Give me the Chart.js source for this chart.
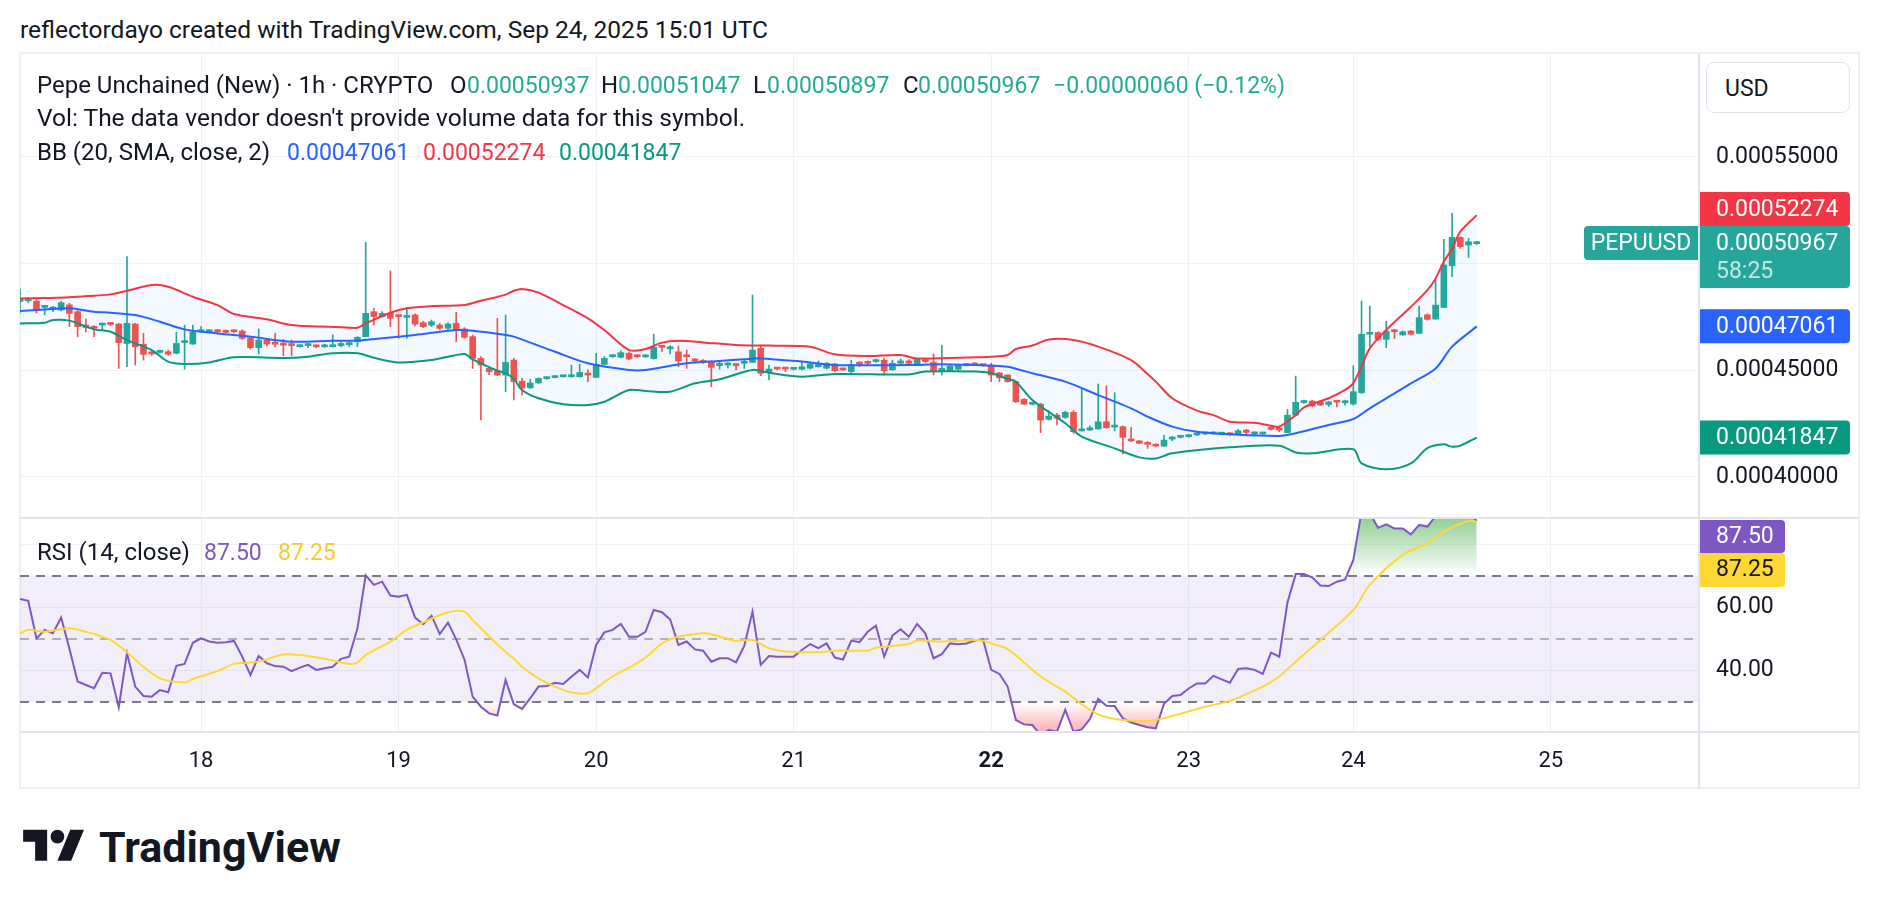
<!DOCTYPE html>
<html>
<head>
<meta charset="utf-8">
<title>PEPUUSD 1h</title>
<script src="https://cdn.jsdelivr.net/npm/chart.js@4.4.1/dist/chart.umd.min.js"></script>
<style>
  html, body { margin: 0; padding: 0; background: #fff; }
  body { width: 1878px; height: 908px; position: relative; overflow: hidden;
         font-family: Roboto, 'Noto Sans', sans-serif; color: #131722; }
  .t { position: absolute; white-space: nowrap; line-height: 1; }
  .sep { position: absolute; background: #e0e3eb; }
  canvas { position: absolute; }
</style>
</head>
<body>
<div id="frame" style="position:absolute;left:19px;top:52px;width:1841px;height:737px;box-sizing:border-box;border:2px solid #eef0f3"></div>
<canvas id="priceChart" width="1838" height="465" style="left:20px;top:53px"></canvas>
<canvas id="rsiChart" width="1838" height="269" style="left:20px;top:518px"></canvas>
<div class="sep" style="left:1698px;top:53px;width:2px;height:735px"></div>
<div class="sep" style="left:20px;top:517px;width:1839px;height:2px"></div>
<div class="sep" style="left:20px;top:731px;width:1839px;height:2px"></div>
<div style="position:absolute;left:1706px;top:62px;width:144px;height:51px;box-sizing:border-box;border:1px solid #e0e3eb;border-radius:8px;background:#fff"></div>
<svg style="position:absolute;left:23px;top:823px" width="62" height="48" viewBox="0 0 36 28">
  <path fill="#131722" d="M14 22H7V11H0V4h14v18zM28 22h-8l7.5-18h8L28 22z"/>
  <circle fill="#131722" cx="20" cy="8" r="4"/>
</svg>
<script>
'use strict';

// prices are in micro-USD (1e-6), one candle per hour, index 0 = Sep 17 02:00
const opens = [
  482.3,482.6,482.3,479.5,478.7,478.3,480.7,477.5,471.2,470.5,
  471.2,472.0,471.7,462.6,471.7,462.2,458.4,458.4,458.7,458.0,
  463.0,462.3,468.1,468.1,468.9,468.6,468.6,468.4,465.3,460.6,
  464.2,463.0,462.3,462.3,461.1,461.6,461.6,461.0,461.1,461.6,
  462.0,463.4,465.8,477.5,475.2,476.7,475.6,474.8,476.0,472.3,
  471.2,471.2,469.7,472.0,469.4,465.8,455.6,450.9,449.8,447.8,
  454.8,444.9,441.8,444.1,446.1,446.6,447.0,447.0,447.0,448.6,
  446.7,452.8,456.4,456.1,458.0,456.9,456.3,455.5,461.6,460.1,
  458.7,457.2,455.2,454.4,454.0,452.2,452.5,452.9,453.3,453.7,
  460.3,449.1,451.2,451.2,450.5,450.5,451.0,451.7,451.0,453.0,
  450.9,449.4,453.7,454.1,454.1,454.8,450.2,453.3,454.4,452.5,
  454.9,453.7,449.6,449.8,450.5,452.2,453.3,452.5,452.5,448.8,
  447.8,444.7,436.4,434.1,434.2,427.0,429.0,427.9,430.3,421.6,
  422.0,422.5,425.9,423.4,423.6,417.8,416.9,416.2,415.3,414.5,
  417.8,418.6,418.9,419.7,420.2,420.2,420.1,420.5,420.2,422.0,
  420.2,420.2,423.1,422.8,420.8,429.0,434.9,435.6,435.3,434.0,
  435.6,434.8,434.2,439.5,466.9,467.7,464.5,468.9,466.6,468.4,
  467.3,476.0,474.0,479.5,499.0,512.3,508.7,509.37
];
const highs = [
  488.1,484.1,483.1,480.5,480.0,482.4,481.4,478.0,474.0,471.0,
  472.2,472.2,472.0,503.3,472.0,467.3,459.0,459.5,459.5,467.8,
  471.2,471.2,470.5,469.0,469.2,469.0,469.0,469.0,466.0,469.4,
  465.0,467.3,464.5,464.2,462.0,462.5,462.0,462.3,466.6,463.2,
  463.4,465.8,510.0,479.0,477.5,496.6,476.0,479.5,476.5,473.0,
  473.6,472.0,472.3,477.2,470.0,466.6,456.4,451.5,474.4,475.9,
  455.6,446.2,445.8,446.5,447.0,447.3,447.6,452.5,452.9,450.2,
  458.0,456.4,457.3,459.1,458.7,457.3,457.3,467.0,461.6,461.6,
  461.4,459.5,455.6,455.0,454.4,454.0,453.7,453.3,454.8,485.3,
  461.8,452.5,451.4,451.4,451.2,453.6,453.7,454.4,453.7,453.3,
  451.2,454.8,454.1,454.4,455.3,455.6,454.8,455.3,455.0,455.6,
  455.2,457.7,461.8,452.2,452.9,453.3,453.7,452.8,453.3,449.1,
  448.0,445.0,436.7,434.8,434.5,431.1,429.8,430.8,431.1,441.1,
  424.0,443.6,442.7,439.5,424.0,423.3,417.2,416.6,415.5,419.7,
  419.0,419.5,420.0,420.8,421.0,421.2,420.8,420.8,422.3,422.3,
  421.2,421.0,423.6,423.9,431.7,447.3,436.0,436.0,435.6,435.5,
  435.8,436.0,452.2,482.5,480.1,468.0,473.0,469.2,468.5,468.7,
  480.1,476.5,492.3,511.4,523.6,512.6,511.9,510.47
];
const lows = [
  476.9,481.7,476.9,476.0,477.5,477.8,470.5,465.8,468.0,465.8,
  469.2,471.0,450.9,451.7,452.5,454.8,457.0,458.0,457.0,457.7,
  450.6,462.3,468.0,468.0,467.5,467.5,467.5,464.5,460.0,457.7,
  461.5,461.0,456.9,456.9,460.8,460.6,460.6,460.8,460.9,461.0,
  461.1,461.1,465.8,471.2,475.0,470.5,465.0,465.0,470.8,470.0,
  470.5,469.0,469.0,463.4,465.0,450.9,426.7,448.0,447.5,440.0,
  436.1,438.5,441.5,443.8,445.8,446.4,446.8,446.7,446.7,444.7,
  446.7,452.5,456.0,455.8,455.0,456.0,456.0,455.2,458.7,457.7,
  451.7,450.9,453.7,453.2,442.3,450.5,451.1,450.2,450.9,453.7,
  447.5,445.5,450.2,449.4,450.2,450.2,450.6,451.4,450.6,449.4,
  449.8,448.3,451.7,452.2,453.7,447.8,450.0,452.9,453.0,452.2,
  453.7,447.8,447.8,449.4,450.2,452.0,452.2,452.0,444.7,444.7,
  444.4,434.8,434.0,433.7,420.8,426.7,424.4,427.5,420.5,421.5,
  421.8,422.5,422.8,421.6,410.8,416.6,415.5,413.4,414.2,414.2,
  417.0,418.3,418.6,419.4,419.8,420.0,419.8,419.5,419.8,419.7,
  419.8,420.0,422.0,421.2,420.8,428.6,434.5,433.0,433.4,433.0,
  432.9,433.7,433.7,439.2,461.1,464.0,460.6,464.9,466.3,466.6,
  467.3,473.5,474.0,479.5,493.9,507.2,503.0,508.97
];
const closes = [
  483.4,483.3,478.0,480.0,479.5,481.7,476.7,470.5,470.1,469.7,
  472.0,471.5,463.0,472.0,461.1,457.5,457.7,459.0,457.6,462.6,
  463.6,468.1,468.9,468.6,468.1,467.8,468.1,465.0,460.6,464.2,
  462.3,462.2,461.8,461.6,461.6,462.2,461.0,461.6,461.6,462.6,
  463.0,465.5,476.7,475.2,476.7,474.4,475.2,475.5,471.7,470.5,
  472.8,469.7,471.7,468.9,465.5,455.6,452.5,449.4,447.8,453.7,
  444.7,441.6,444.1,446.2,446.7,447.1,447.4,447.8,449.0,447.8,
  452.8,455.6,457.0,458.3,455.3,456.4,457.0,460.8,460.8,460.8,
  454.4,456.4,454.4,453.7,451.4,453.3,453.3,452.2,454.1,459.5,
  448.6,450.6,450.6,450.6,451.0,451.7,453.0,452.8,453.3,449.8,
  450.2,452.5,452.9,453.3,454.9,449.8,453.3,454.4,453.3,455.2,
  454.1,449.4,450.9,452.0,452.5,452.8,452.5,452.2,447.8,446.5,
  444.7,435.3,434.2,434.5,426.7,428.6,427.5,430.3,421.2,422.1,
  423.1,425.9,423.1,423.9,418.6,416.9,415.8,415.3,414.5,417.3,
  418.6,419.2,419.7,420.5,420.8,420.9,420.5,419.8,421.7,420.9,
  420.8,420.8,422.3,422.0,429.0,435.0,435.6,433.3,433.7,435.2,
  435.1,435.6,440.0,466.9,467.7,464.5,468.4,468.1,468.1,466.9,
  474.7,473.9,480.6,499.4,512.3,508.0,510.27,509.67
];

// Bollinger Bands (20, SMA, close, 2): [candle index, value]
const bbUpper = [
  [0,483.7],[3,483.9],[6,484.2],[9,485],[11,485.6],[13,487.3],[16,490],[18,489.2],[21,484.5],
  [24,480.6],[26,476.4],[30,473.9],[33,471.2],[36,470.6],[39,470.2],[41,470],[42,472],[45,477],
  [47,479.1],[50,480.1],[54,480.6],[56,482.6],[59,485.5],[60,487.3],[61,488.1],[63,486.4],
  [66,480.6],[69,474.4],[71,468.9],[74,459.5],[76,460],[78,463],[80,463.9],[83,463.1],[87,461.9],
  [91,461.6],[96,461.1],[99,457.5],[103,456.7],[107,457.2],[109,455.6],[116,456.1],[118,456.4],
  [120,457.2],[121,460],[123,461.6],[125,464.5],[128,464.2],[131,461.1],[135,454.8],[137,448.3],
  [138,444.7],[140,436.9],[143,431.1],[145,429],[147,425.9],[150,425.4],[152,424],[153,423.6],
  [155,429],[156,432.6],[159,436.9],[161,440.8],[162,444],[163,452],[164,460.3],[166,468.9],
  [169,479.8],[171,487.6],[172,493.1],[173,501],[174,507],[175,515],[177,522.74]
];
const bbBasis = [
  [0,477.8],[3,478.5],[6,479.1],[9,477.5],[11,477],[14,475.9],[17,472.8],[20,469.2],[24,467.3],
  [28,465.8],[33,463.4],[38,463.9],[41,463.9],[44,465],[48,466.6],[53,468.9],[55,468.6],[59,466.6],
  [60,465.8],[65,458.7],[69,453.3],[74,450.2],[76,450.2],[81,453.3],[85,454.4],[88,455.2],[90,455.6],
  [95,454.1],[99,452.5],[108,452.5],[112,452.8],[118,452.2],[120,451.7],[123,448.6],[127,444.7],
  [131,438.4],[135,432.2],[137,428.3],[140,423.6],[143,421.2],[147,420],[153,419.2],[155,420.5],
  [159,424.4],[162,427.2],[164,432.2],[167,439.2],[169,443.9],[172,450.9],[174,461.1],[177,470.61]
];
const bbLower = [
  [0,472],[3,472.3],[4,473.6],[6,473.3],[8,470.5],[9,469.2],[11,468.1],[13,464.2],[16,459.5],
  [18,454.1],[20,453],[23,453.7],[26,456.1],[32,455.8],[35,456.4],[38,458],[41,458],[43,455.9],
  [46,453.7],[50,454.8],[54,457.7],[55,455.1],[58,449.8],[59,448.6],[60,446],[61,440.8],[63,436.9],
  [66,434.1],[69,433.7],[71,435.3],[74,440.8],[76,440.3],[79,440],[82,443.9],[85,445.8],[89,450.2],
  [91,448.9],[95,447],[99,448.3],[108,448.1],[110,449.4],[116,449.4],[118,448.6],[120,446],
  [121,444.7],[123,436.1],[127,425.2],[129,418.9],[133,413.4],[136,409.2],[138,408.7],[140,411.1],
  [147,413.9],[153,414.7],[155,411.5],[157,411.1],[162,413],[163,406.4],[166,403.6],[169,406.4],
  [171,413.5],[173,415.3],[174,414.2],[175,414.7],[177,418.47]
];

// RSI (14, close), one value per candle
const rsi = [
  62.7,62.1,50.2,52.9,51.8,56.8,47.0,36.5,35.4,34.4,
  39.3,39.1,28.3,45.5,34.9,31.9,31.7,33.8,33.1,41.5,
  42.1,48.8,50.2,49.2,48.8,49.0,49.4,44.4,38.6,44.6,
  42.3,41.4,41.2,39.8,40.9,41.8,40.2,40.7,41.2,43.7,
  44.4,53.4,70.2,67.2,68.2,63.8,63.4,64.0,56.8,54.7,
  57.4,51.6,55.2,49.9,43.5,31.7,28.5,26.4,25.7,37.0,
  29.3,27.8,31.2,34.9,35.1,36.1,35.7,38.0,40.2,37.8,
  48.1,52.1,52.9,54.8,50.7,50.7,52.3,59.2,58.5,56.2,
  48.1,49.2,46.7,46.3,42.8,43.9,43.9,42.6,47.8,58.7,
  41.8,44.6,44.4,44.4,44.4,46.5,48.4,47.1,48.6,44.1,
  43.5,49.5,49.0,52.3,54.2,44.4,51.1,53.1,50.7,54.8,
  51.8,43.9,45.2,48.6,48.3,48.6,49.5,49.9,40.2,38.9,
  34.9,24.3,22.9,22.7,19.5,21.1,20.6,27.5,20.6,21.3,
  24.6,31.0,28.8,28.7,24.8,23.5,22.7,22.0,21.6,29.4,
  31.9,32.2,34.3,35.9,35.9,38.3,37.2,36.1,40.5,40.7,
  40.2,38.9,45.7,44.4,61.6,70.6,70.6,69.6,67.0,66.8,
  68.2,68.9,75.1,90.5,90.0,85.3,86.4,85.1,85.1,83.2,
  86.2,85.7,89.0,93.0,94.5,91.0,90.0,87.5
];
// RSI-based moving average: [candle index, value]
const rsiMa = [
  [0,51.8],[1,52.9],[3,52.3],[6,53.4],[8,52.3],[11,49.7],[13,45.8],[15,41.2],[17,37.5],[20,36.2],
  [21,37.3],[24,39.8],[26,42.1],[29,42.8],[32,45.1],[34,44.9],[37,43.7],[40,42.1],[41,42.6],
  [42,44.9],[45,49.2],[47,52.9],[49,55.3],[52,58.5],[54,58.7],[55,56],[58,48.3],[60,43.7],
  [61,41.2],[63,37.5],[65,34.9],[67,33],[69,32.8],[70,34.4],[72,38.1],[74,40.9],[76,44.1],
  [78,48.6],[80,50.7],[83,51.8],[84,51.5],[87,49.4],[89,49.7],[91,47.1],[93,46],[97,45.8],
  [99,46.3],[103,46.3],[104,47.2],[108,48.4],[109,49.5],[112,49.2],[116,49.7],[117,49.5],
  [118,48.6],[120,46.8],[124,38.1],[127,33.3],[129,29.3],[131,26.1],[133,24.6],[136,24],
  [138,24.3],[140,25.6],[144,28.5],[147,30.4],[151,34.9],[153,38.1],[155,42.8],[158,49.7],
  [162,59.2],[164,67.2],[168,76.7],[171,80.4],[173,84.1],[176,87.5],[177,87.25]
];

// time axis: candle index of each midnight, and its label
const dayTicks = [22, 46, 70, 94, 118, 142, 162, 186];
const dayLabels = ['18', '19', '20', '21', '22', '23', '24', '25'];
const boldDay = '22';

const FONT = 'Roboto, "Noto Sans", sans-serif';
const TEXT = '#131722';
const GRID = '#eff1f4';
const UP = '#26a69a', DOWN = '#ef5350';
const C_UPPER = '#f23645', C_BASIS = '#2962ff', C_LOWER = '#089981';
const C_RSI = '#7e57c2', C_RSI_MA = '#fdd835';

const X_MIN = 0, X_MAX = 204;
const P_MIN = 380.78, P_MAX = 598.75;
const R_MIN = 20.48, R_MAX = 88.41;

const last = closes.length - 1;
const fmt = v => (v / 1e6).toFixed(8);
const lastOf = pts => pts[pts.length - 1][1];
const pts = arr => arr.map(p => ({ x: p[0], y: p[1] }));

function tag(ctx, x, y, w, h, bg, radii) {
  ctx.fillStyle = bg;
  ctx.beginPath();
  ctx.roundRect(x, y, w, h, radii);
  ctx.fill();
}

function dayAxis(showLabels) {
  return {
    type: 'linear', min: X_MIN, max: X_MAX, offset: false,
    grid: { color: GRID, lineWidth: 1, drawTicks: false, offset: false },
    border: { display: false },
    ticks: {
      display: showLabels, autoSkip: false, maxRotation: 0, padding: 16, color: TEXT,
      callback: v => dayLabels[dayTicks.indexOf(v)],
      font: c => ({ family: FONT, size: 22, weight: c.tick && c.tick.label === boldDay ? 'bold' : 'normal' })
    },
    afterBuildTicks: s => { s.ticks = dayTicks.map(v => ({ value: v })); },
    afterFit: s => { s.height = showLabels ? 55 : 0; s.paddingLeft = 0; s.paddingRight = 0; }
  };
}

// ---------- price pane ----------
const priceTags = {
  id: 'priceTags',
  afterDraw(chart) {
    const { ctx, chartArea: a, scales: { y } } = chart;
    const x0 = a.right + 1, w = 150, h = 34, tx = a.right + 17;
    ctx.save();
    ctx.font = '23px ' + FONT;
    ctx.textBaseline = 'middle';
    const cTop = y.getPixelForValue(closes[last]) - h / 2;
    let uTop = y.getPixelForValue(lastOf(bbUpper)) - h / 2;
    if (uTop + h > cTop) uTop = cTop - h;
    const mTop = y.getPixelForValue(lastOf(bbBasis)) - h / 2;
    const lTop = y.getPixelForValue(lastOf(bbLower)) - h / 2;

    tag(ctx, x0, uTop, w, h, C_UPPER, [0, 4, 4, 0]);
    ctx.fillStyle = '#fff'; ctx.textAlign = 'left';
    ctx.fillText(fmt(lastOf(bbUpper)), tx, uTop + h / 2 + 1);

    tag(ctx, x0, cTop, w, 62, UP, [0, 4, 4, 0]);
    ctx.fillStyle = '#fff';
    ctx.fillText(fmt(closes[last]), tx, cTop + h / 2 + 1);
    ctx.fillStyle = 'rgba(255,255,255,0.72)';
    ctx.fillText('58:25', tx, cTop + 46);

    tag(ctx, a.right - 115, cTop, 114, h, UP, [4, 0, 0, 4]);
    ctx.fillStyle = '#fff'; ctx.textAlign = 'center';
    ctx.fillText('PEPUUSD', a.right - 58, cTop + h / 2 + 1);

    ctx.textAlign = 'left';
    tag(ctx, x0, mTop, w, h, C_BASIS, [0, 4, 4, 0]);
    ctx.fillStyle = '#fff';
    ctx.fillText(fmt(lastOf(bbBasis)), tx, mTop + h / 2 + 1);
    tag(ctx, x0, lTop, w, h, C_LOWER, [0, 4, 4, 0]);
    ctx.fillStyle = '#fff';
    ctx.fillText(fmt(lastOf(bbLower)), tx, lTop + h / 2 + 1);
    ctx.restore();
  }
};

const candleColor = c => closes[c.dataIndex] >= opens[c.dataIndex] ? UP : DOWN;
const idx = closes.map((_, i) => i);

new Chart(document.getElementById('priceChart'), {
  type: 'bar',
  data: {
    datasets: [
      { type: 'line', label: 'Upper', data: pts(bbUpper), borderColor: C_UPPER, borderWidth: 2,
        pointRadius: 0, tension: 0.3, fill: 2, backgroundColor: 'rgba(33,150,243,0.055)', order: 0 },
      { type: 'line', label: 'Basis', data: pts(bbBasis), borderColor: C_BASIS, borderWidth: 2,
        pointRadius: 0, tension: 0.3, fill: false, order: 0 },
      { type: 'line', label: 'Lower', data: pts(bbLower), borderColor: C_LOWER, borderWidth: 2,
        pointRadius: 0, tension: 0.3, fill: false, order: 0 },
      { label: 'Wick', data: idx.map(i => ({ x: i, y: [lows[i], highs[i]] })),
        backgroundColor: candleColor, barThickness: 1, grouped: false, order: 2 },
      { label: 'Body', data: idx.map(i => ({ x: i, y: [opens[i], closes[i]] })),
        backgroundColor: candleColor, barThickness: 6, minBarLength: 2, grouped: false, order: 1 }
    ]
  },
  options: {
    responsive: false, devicePixelRatio: 1, animation: false,
    layout: { padding: 0 },
    plugins: { legend: { display: false }, tooltip: { enabled: false },
               filler: { drawTime: 'beforeDatasetsDraw' } },
    scales: {
      x: dayAxis(false),
      y: {
        type: 'linear', position: 'right', min: P_MIN, max: P_MAX,
        grid: { color: GRID, lineWidth: 1, drawTicks: false },
        border: { display: false },
        ticks: { color: TEXT, padding: 17, font: { family: FONT, size: 23 }, callback: v => fmt(v) },
        afterBuildTicks: s => { s.ticks = [400, 450, 500, 550].map(v => ({ value: v })); },
        afterFit: s => { s.width = 159; s.paddingTop = 0; s.paddingBottom = 0; }
      }
    }
  },
  plugins: [priceTags]
});

// ---------- RSI pane ----------
const RSI_H = 214;
const rsiPx = v => (R_MAX - v) / (R_MAX - R_MIN) * RSI_H;
const rctx = document.getElementById('rsiChart').getContext('2d');
const obGrad = rctx.createLinearGradient(0, 0, 0, rsiPx(70));
obGrad.addColorStop(0, 'rgba(76,175,80,0.6)');
obGrad.addColorStop(1, 'rgba(76,175,80,0)');
const osGrad = rctx.createLinearGradient(0, rsiPx(30), 0, RSI_H);
osGrad.addColorStop(0, 'rgba(242,54,69,0)');
osGrad.addColorStop(1, 'rgba(242,54,69,0.4)');

const rsiBands = {
  id: 'rsiBands',
  beforeDatasetsDraw(chart) {
    const { ctx, chartArea: a, scales: { y } } = chart;
    ctx.save();
    ctx.fillStyle = 'rgba(126,87,194,0.1)';
    ctx.fillRect(a.left, y.getPixelForValue(70), a.right - a.left, y.getPixelForValue(30) - y.getPixelForValue(70));
    ctx.setLineDash([9, 7]);
    ctx.lineWidth = 2;
    [[70, '#787b86'], [50, 'rgba(120,123,134,0.55)'], [30, '#787b86']].forEach(([v, c]) => {
      const py = Math.round(y.getPixelForValue(v));
      ctx.strokeStyle = c;
      ctx.beginPath(); ctx.moveTo(a.left, py); ctx.lineTo(a.right, py); ctx.stroke();
    });
    ctx.restore();
  },
  afterDraw(chart) {
    const { ctx, chartArea: a, scales: { y } } = chart;
    const x0 = a.right + 1, w = 85, h = 33, tx = a.right + 17;
    ctx.save();
    ctx.font = '23px ' + FONT;
    ctx.textBaseline = 'middle'; ctx.textAlign = 'left';
    const rTop = Math.max(a.top + 2, y.getPixelForValue(rsi[last]) - h / 2);
    const mTop = Math.max(rTop + h, y.getPixelForValue(lastOf(rsiMa)) - h / 2);
    tag(ctx, x0, rTop, w, h, C_RSI, [0, 4, 4, 0]);
    ctx.fillStyle = '#fff';
    ctx.fillText(rsi[last].toFixed(2), tx, rTop + h / 2 + 1);
    tag(ctx, x0, mTop, w, h + 1, C_RSI_MA, [0, 4, 4, 0]);
    ctx.fillStyle = TEXT;
    ctx.fillText(lastOf(rsiMa).toFixed(2), tx, mTop + h / 2 + 1);
    ctx.restore();
  }
};

const rsiPts = rsi.map((v, i) => ({ x: i, y: v }));
new Chart(rctx, {
  type: 'line',
  data: {
    datasets: [
      { label: 'RSI', data: rsiPts, borderColor: C_RSI, borderWidth: 2, pointRadius: 0, tension: 0,
        fill: { target: { value: 70 }, above: obGrad, below: 'rgba(0,0,0,0)' }, order: 1 },
      { label: 'RSI oversold', data: rsiPts, borderWidth: 0, borderColor: 'rgba(0,0,0,0)', pointRadius: 0,
        tension: 0, fill: { target: { value: 30 }, above: 'rgba(0,0,0,0)', below: osGrad }, order: 2 },
      { label: 'RSI MA', data: pts(rsiMa), borderColor: C_RSI_MA, borderWidth: 2, pointRadius: 0,
        tension: 0.3, fill: false, order: 0 }
    ]
  },
  options: {
    responsive: false, devicePixelRatio: 1, animation: false,
    layout: { padding: 0 },
    plugins: { legend: { display: false }, tooltip: { enabled: false } },
    scales: {
      x: dayAxis(true),
      y: {
        type: 'linear', position: 'right', min: R_MIN, max: R_MAX,
        grid: { color: GRID, lineWidth: 1, drawTicks: false },
        border: { display: false },
        ticks: { color: TEXT, padding: 17, font: { family: FONT, size: 23 }, callback: v => v.toFixed(2) },
        afterBuildTicks: s => { s.ticks = [40, 60, 80].map(v => ({ value: v })); },
        afterFit: s => { s.width = 159; s.paddingTop = 0; s.paddingBottom = 0; }
      }
    }
  },
  plugins: [rsiBands]
});

// ---------- text overlays ----------
function addText(txt, x, yc, size, color, weight) {
  const d = document.createElement('div');
  d.className = 't';
  d.textContent = txt;
  d.style.left = x + 'px';
  d.style.top = (yc - size / 2) + 'px';
  d.style.fontSize = size + 'px';
  d.style.color = color;
  if (weight) d.style.fontWeight = weight;
  document.body.appendChild(d);
}
const VAL = '#22ab94';
const LEG = 24, NUM = 23;
const chg = closes[last] - closes[last - 1];
const sign = chg < 0 ? '\u2212' : '+';
addText('reflectordayo created with TradingView.com, Sep 24, 2025 15:01 UTC', 20, 30, 24.5, TEXT);
addText('Pepe Unchained (New) \u00b7 1h \u00b7 CRYPTO', 37, 85, LEG, TEXT);
addText('O', 450, 85, LEG, TEXT); addText(fmt(opens[last]), 467, 85, NUM, VAL);
addText('H', 601, 85, LEG, TEXT); addText(fmt(highs[last]), 618, 85, NUM, VAL);
addText('L', 753, 85, LEG, TEXT); addText(fmt(lows[last]), 767, 85, NUM, VAL);
addText('C', 903, 85, LEG, TEXT); addText(fmt(closes[last]), 918, 85, NUM, VAL);
addText(sign + fmt(Math.abs(chg)) + ' (' + sign + (Math.abs(chg) / closes[last - 1] * 100).toFixed(2) + '%)', 1053, 85, NUM, VAL);
addText("Vol: The data vendor doesn't provide volume data for this symbol.", 37, 118, 24.5, TEXT);
addText('BB (20, SMA, close, 2)', 37, 152, LEG, TEXT);
addText(fmt(lastOf(bbBasis)), 287, 152, NUM, C_BASIS);
addText(fmt(lastOf(bbUpper)), 423, 152, NUM, C_UPPER);
addText(fmt(lastOf(bbLower)), 559, 152, NUM, C_LOWER);
addText('RSI (14, close)', 37, 552, LEG, TEXT);
addText(rsi[last].toFixed(2), 204, 552, NUM, C_RSI);
addText(lastOf(rsiMa).toFixed(2), 278, 552, NUM, '#f9c82b');
addText('USD', 1725, 88, 23, TEXT);
addText('TradingView', 99, 847, 43, TEXT, 'bold');
</script>
</body>
</html>
